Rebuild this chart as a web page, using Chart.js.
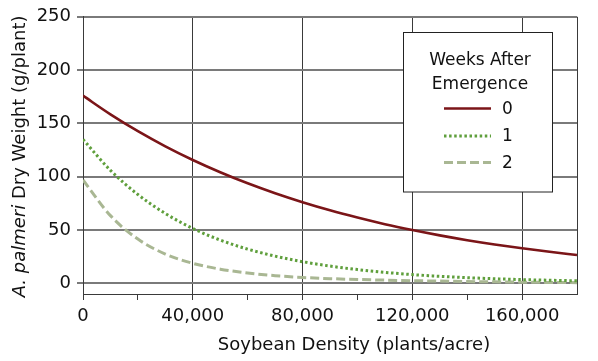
<!DOCTYPE html>
<html lang="en">
<head>
  <meta charset="UTF-8" />
  <title>A. palmeri dry weight vs soybean density</title>
  <script src="https://cdn.jsdelivr.net/npm/chart.js@4.4.1/dist/chart.umd.min.js"></script>
  <style>
    html, body { margin: 0; background: #fff; }
  </style>
</head>
<body>
<canvas id="chart" width="598" height="361"></canvas>
<script>
  // soybean density (plants/acre) and fitted dry weight (g/plant) per weeks-after-emergence
  const density = [0, 10000, 20000, 30000, 40000, 50000, 60000, 70000, 80000, 90000,
    100000, 110000, 120000, 130000, 140000, 150000, 160000, 170000, 180000];
  const wae0 = [176, 158.5, 142.7, 128.5, 115.7, 104.2, 93.8, 84.5, 76.1, 68.5, 61.7, 55.5, 50, 45, 40.5, 36.5, 32.9, 29.6, 26.6];
  const wae1 = [135, 106, 83.3, 65.5, 51.5, 40.6, 32.1, 25.5, 20.3, 16.2, 12.9, 10.3, 8.2, 6.6, 5.3, 4.3, 3.5, 2.9, 2.4];
  const wae2 = [97, 63.5, 41.5, 27.5, 18.8, 13.3, 9.7, 7.2, 5.5, 4.4, 3.6, 3.0, 2.5, 2.1, 1.7, 1.4, 1.1, 0.85, 0.65];
  const seriesNames = ["0", "1", "2"];
  const xLabelTicks = [0, 40000, 80000, 120000, 160000];
  const yLabelTicks = [0, 50, 100, 150, 200, 250];

  const FONT = '"DejaVu Sans", sans-serif';
  const DARK = "#3a3a3a";
  const NONE = "rgba(0,0,0,0)";

  const styles = [
    { color: "#7b1518", dash: [], width: 2.6 },
    { color: "#5f9f3c", dash: [2.5, 2.6], width: 3 },
    { color: "#a9b793", dash: [9, 4], width: 3 }
  ];

  const toPoints = (ys) => ys.map((y, i) => ({ x: density[i], y: y }));

  const annotate = {
    id: "annotate",
    afterDraw(chart) {
      const { ctx, chartArea: a } = chart;
      ctx.save();
      ctx.fillStyle = "#111";

      // x title
      ctx.font = "18px " + FONT;
      ctx.textAlign = "center";
      ctx.textBaseline = "middle";
      ctx.fillText("Soybean Density (plants/acre)", 354, 345);

      // y title, genus/species in italics
      ctx.save();
      ctx.translate(25, (a.top + a.bottom) / 2 + 1);
      ctx.rotate(-Math.PI / 2);
      ctx.textAlign = "left";
      ctx.textBaseline = "alphabetic";
      const ital = "italic 18px " + FONT, reg = "18px " + FONT;
      const p1 = "A. palmeri", p2 = " Dry Weight (g/plant)";
      ctx.font = ital; const w1 = ctx.measureText(p1).width;
      ctx.font = reg; const w2 = ctx.measureText(p2).width;
      let x0 = -(w1 + w2) / 2;
      ctx.font = ital; ctx.fillText(p1, x0, 0);
      ctx.font = reg; ctx.fillText(p2, x0 + w1, 0);
      ctx.restore();

      // legend box
      ctx.fillStyle = "#fff";
      ctx.strokeStyle = "#222";
      ctx.lineWidth = 1;
      ctx.fillRect(403.5, 32.5, 149, 159.5);
      ctx.strokeRect(403.5, 32.5, 149, 159.5);
      ctx.fillStyle = "#111";
      ctx.font = "17px " + FONT;
      ctx.textAlign = "center";
      ctx.fillText("Weeks After", 480, 61);
      ctx.fillText("Emergence", 480, 84.5);
      const rows = [108.5, 136, 162.5];
      chart.data.datasets.forEach((ds, i) => {
        const y = rows[i];
        ctx.beginPath();
        ctx.strokeStyle = ds.borderColor;
        ctx.lineWidth = ds.borderWidth;
        ctx.setLineDash(ds.borderDash);
        ctx.moveTo(444, y);
        ctx.lineTo(491, y);
        ctx.stroke();
        ctx.setLineDash([]);
        ctx.textAlign = "left";
        ctx.fillText(ds.label, 502, y + 1);
      });
      ctx.restore();
    }
  };

  new Chart(document.getElementById("chart"), {
    type: "line",
    data: {
      datasets: [wae0, wae1, wae2].map((ys, i) => ({
        label: seriesNames[i],
        data: toPoints(ys),
        borderColor: styles[i].color,
        borderWidth: styles[i].width,
        borderDash: styles[i].dash,
        pointRadius: 0,
        fill: false,
        cubicInterpolationMode: "monotone"
      }))
    },
    options: {
      responsive: false,
      animation: false,
      events: [],
      layout: { padding: { top: 16, right: 21, left: 0, bottom: 0 } },
      plugins: { legend: { display: false }, tooltip: { enabled: false } },
      scales: {
        x: {
          type: "linear",
          min: 0,
          max: 180000,
          afterFit: (s) => { s.height = 67; },
          ticks: {
            stepSize: 20000,
            autoSkip: false,
            maxRotation: 0,
            padding: 6,
            color: "#111",
            font: { family: FONT, size: 18 },
            callback: (v) => xLabelTicks.includes(v) ? v.toLocaleString("en-US") : ""
          },
          grid: {
            lineWidth: 1,
            tickLength: 6,
            color: (c) => (c.tick && (xLabelTicks.includes(c.tick.value) || c.tick.value === 180000)) ? DARK : NONE,
            tickColor: (c) => (c.tick && c.tick.value === 180000) ? NONE : DARK
          },
          border: { display: true, color: DARK, width: 1 }
        },
        y: {
          min: -10,
          max: 250,
          afterFit: (s) => { s.width = 83; },
          afterBuildTicks: (s) => { s.ticks = [-10].concat(yLabelTicks).map((v) => ({ value: v })); },
          ticks: {
            padding: 6,
            color: "#111",
            font: { family: FONT, size: 18 },
            callback: (v) => yLabelTicks.includes(v) ? String(v) : ""
          },
          grid: {
            lineWidth: 2,
            tickLength: 6,
            color: (c) => (c.tick && c.tick.value < 0) ? NONE : "#7a7a7a",
            tickColor: (c) => (c.tick && c.tick.value < 0) ? NONE : "#7a7a7a"
          },
          border: { display: true, color: DARK, width: 1 }
        }
      }
    },
    plugins: [annotate]
  });
</script>
</body>
</html>
